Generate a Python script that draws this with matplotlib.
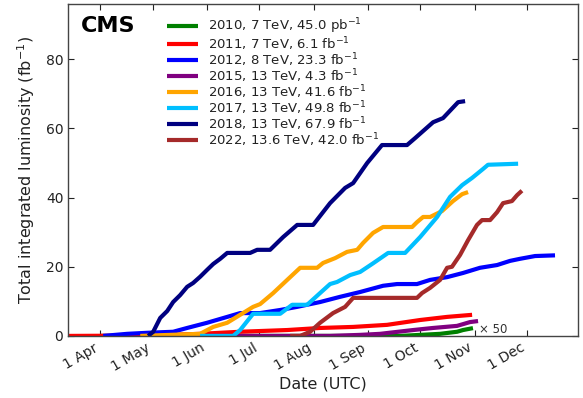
import numpy as np
import matplotlib
matplotlib.use("Agg")
import matplotlib.pyplot as plt
import matplotlib.dates as mdates

# days after 1 April, integrated luminosity (fb^-1)
d2010 = [0, 171.4, 182.9, 194.3, 204.0, 207.4, 213.1]
v2010 = [0, 0, 0.3, 0.6, 1.2, 1.7, 2.25]          # x 50

d2011 = [-18.3, 28.6, 57.1, 80.0, 106.9, 125.7, 144.6, 164.0, 182.9, 198.3, 212.6]
v2011 = [0, 0.1, 0.6, 1.2, 1.7, 2.3, 2.6, 3.2, 4.6, 5.5, 6.1]

d2012 = [1.7, 15.4, 26.9, 41.7, 49.7, 61.1, 72.6, 80.0, 91.4, 102.9, 112.6, 125.7,
         137.1, 148.6, 161.7, 169.7, 181.1, 188.6, 198.3, 207.4, 217.1, 226.9,
         234.3, 240.0, 248.6, 260.0]
v2012 = [0, 0.6, 0.9, 1.2, 2.3, 3.8, 5.5, 6.6, 6.6, 7.5, 8.4, 9.8,
         11.3, 12.7, 14.5, 15.0, 15.0, 16.2, 17.0, 18.2, 19.7, 20.5,
         21.7, 22.3, 23.1, 23.3]

d2015 = [57.1, 131.4, 148.6, 160.0, 178.9, 190.3, 204.0, 211.4, 216.0]
v2015 = [0, 0, 0.3, 0.6, 1.7, 2.3, 2.9, 4.0, 4.3]

d2016 = [22.9, 57.1, 64.6, 72.6, 80.0, 87.4, 91.4, 98.9, 106.9, 114.3, 124.0,
         127.4, 134.3, 141.1, 146.9, 150.3, 156.0, 161.7, 178.3, 181.1, 184.6,
         188.6, 195.4, 201.7, 206.9, 210.3]
v2016 = [0, 0.6, 2.6, 3.8, 6.1, 8.4, 9.2, 12.4, 16.2, 19.7, 19.7,
         21.1, 22.5, 24.3, 24.9, 26.9, 29.8, 31.5, 31.5, 32.9, 34.4,
         34.4, 36.1, 39.0, 41.0, 41.6]

d2017 = [57.1, 76.0, 80.0, 87.4, 102.9, 109.7, 118.3, 125.7, 131.4, 135.4,
         142.9, 148.6, 156.0, 164.6, 174.3, 182.9, 192.6, 200.0, 206.9, 212.6,
         218.9, 221.7, 238.9]
v2017 = [0, 0, 1.7, 6.4, 6.4, 9.0, 9.0, 12.4, 15.0, 15.6,
         17.6, 18.5, 21.0, 24.0, 24.0, 28.6, 34.4, 40.2, 43.6, 45.7,
         48.3, 49.5, 49.8]

d2018 = [27.4, 30.3, 34.3, 38.3, 41.7, 45.7, 49.7, 53.1, 57.1, 61.1, 64.6, 68.6,
         72.6, 85.7, 89.7, 97.1, 104.6, 112.6, 121.7, 131.4, 140.0, 144.6,
         152.6, 161.1, 175.4, 180.0, 190.3, 196.0, 204.6, 208.6]
v2018 = [0, 1.2, 5.2, 7.2, 9.8, 11.8, 14.2, 15.3, 17.1, 19.1, 20.8, 22.3,
         24.0, 24.0, 24.9, 24.9, 28.6, 32.1, 32.1, 38.4, 42.8, 44.2,
         50.0, 55.2, 55.2, 57.2, 61.8, 63.0, 67.6, 67.9]

d2022 = [108.6, 114.3, 120.0, 125.7, 133.1, 140.0, 144.6, 181.1, 184.0, 188.6,
         194.3, 198.3, 201.1, 205.7, 210.3, 215.4, 218.3, 222.9, 226.9, 230.3,
         235.4, 238.3, 241.1]
v2022 = [0, 0, 1.2, 3.8, 6.6, 8.4, 11.0, 11.0, 12.4, 13.9,
         16.2, 19.7, 20.0, 23.4, 27.7, 32.1, 33.5, 33.5, 35.8, 38.4,
         39.0, 40.7, 42.0]

labels = ["2010, 7 TeV, 45.0 pb$^{-1}$", "2011, 7 TeV, 6.1 fb$^{-1}$",
          "2012, 8 TeV, 23.3 fb$^{-1}$", "2015, 13 TeV, 4.3 fb$^{-1}$",
          "2016, 13 TeV, 41.6 fb$^{-1}$", "2017, 13 TeV, 49.8 fb$^{-1}$",
          "2018, 13 TeV, 67.9 fb$^{-1}$", "2022, 13.6 TeV, 42.0 fb$^{-1}$"]
colors = ["green", "red", "blue", "purple", "orange", "deepskyblue", "navy", "brown"]
series = [(d2010, v2010), (d2011, v2011), (d2012, v2012), (d2015, v2015),
          (d2016, v2016), (d2017, v2017), (d2018, v2018), (d2022, v2022)]

base = np.datetime64("2018-04-01T00:00")
def to_dates(days):
    return base + (np.array(days) * 24 * 60).astype("timedelta64[m]")

fig = plt.figure(figsize=(5.83, 3.98), dpi=100)
ax = fig.add_axes([0.117, 0.156, 0.874, 0.834])

for (d, v), c, lab in zip(series, colors, labels):
    ax.plot(to_dates(d), v, color=c, lw=3.0, label=lab, solid_capstyle="butt")

ax.set_xlim(to_dates([-18.3])[0], to_dates([273])[0])
ax.set_ylim(0, 96)
ax.set_yticks([0, 20, 40, 60, 80])
ax.xaxis.set_major_locator(mdates.MonthLocator(bymonth=range(4, 13)))
ax.xaxis.set_major_formatter(mdates.DateFormatter("1 %b"))
for lbl in ax.get_xticklabels():
    lbl.set_rotation(30)
    lbl.set_ha("right")
ax.tick_params(direction="in", top=True, right=True, labelsize=10,
               colors="#222222", length=4, width=0.8)
for s in ax.spines.values():
    s.set_color("#444444")
    s.set_linewidth(1.0)

ax.set_xlabel("Date (UTC)", fontsize=11.5, color="#222222", labelpad=2)
ax.set_ylabel("Total integrated luminosity (fb$^{-1}$)", fontsize=11.5,
              color="#222222", labelpad=6)

ax.text(0.024, 0.965, "CMS", transform=ax.transAxes, fontsize=16,
        fontweight="bold", va="top", ha="left")
last = to_dates([d2010[-1]])[0]
ax.annotate("× 50", xy=(last, v2010[-1]), xytext=(4, -1), textcoords="offset points",
            fontsize=8.5, color="#333333", va="center", ha="left")

leg = ax.legend(loc="upper left", bbox_to_anchor=(0.183, 0.977), frameon=False,
                fontsize=9.5, handlelength=2.4, handletextpad=0.7,
                labelspacing=-0.12, borderaxespad=0)
for t in leg.get_texts():
    t.set_color("#222222")
for h in leg.get_lines():
    h.set_linewidth(3.0)

fig.savefig("out.png", dpi=100)
